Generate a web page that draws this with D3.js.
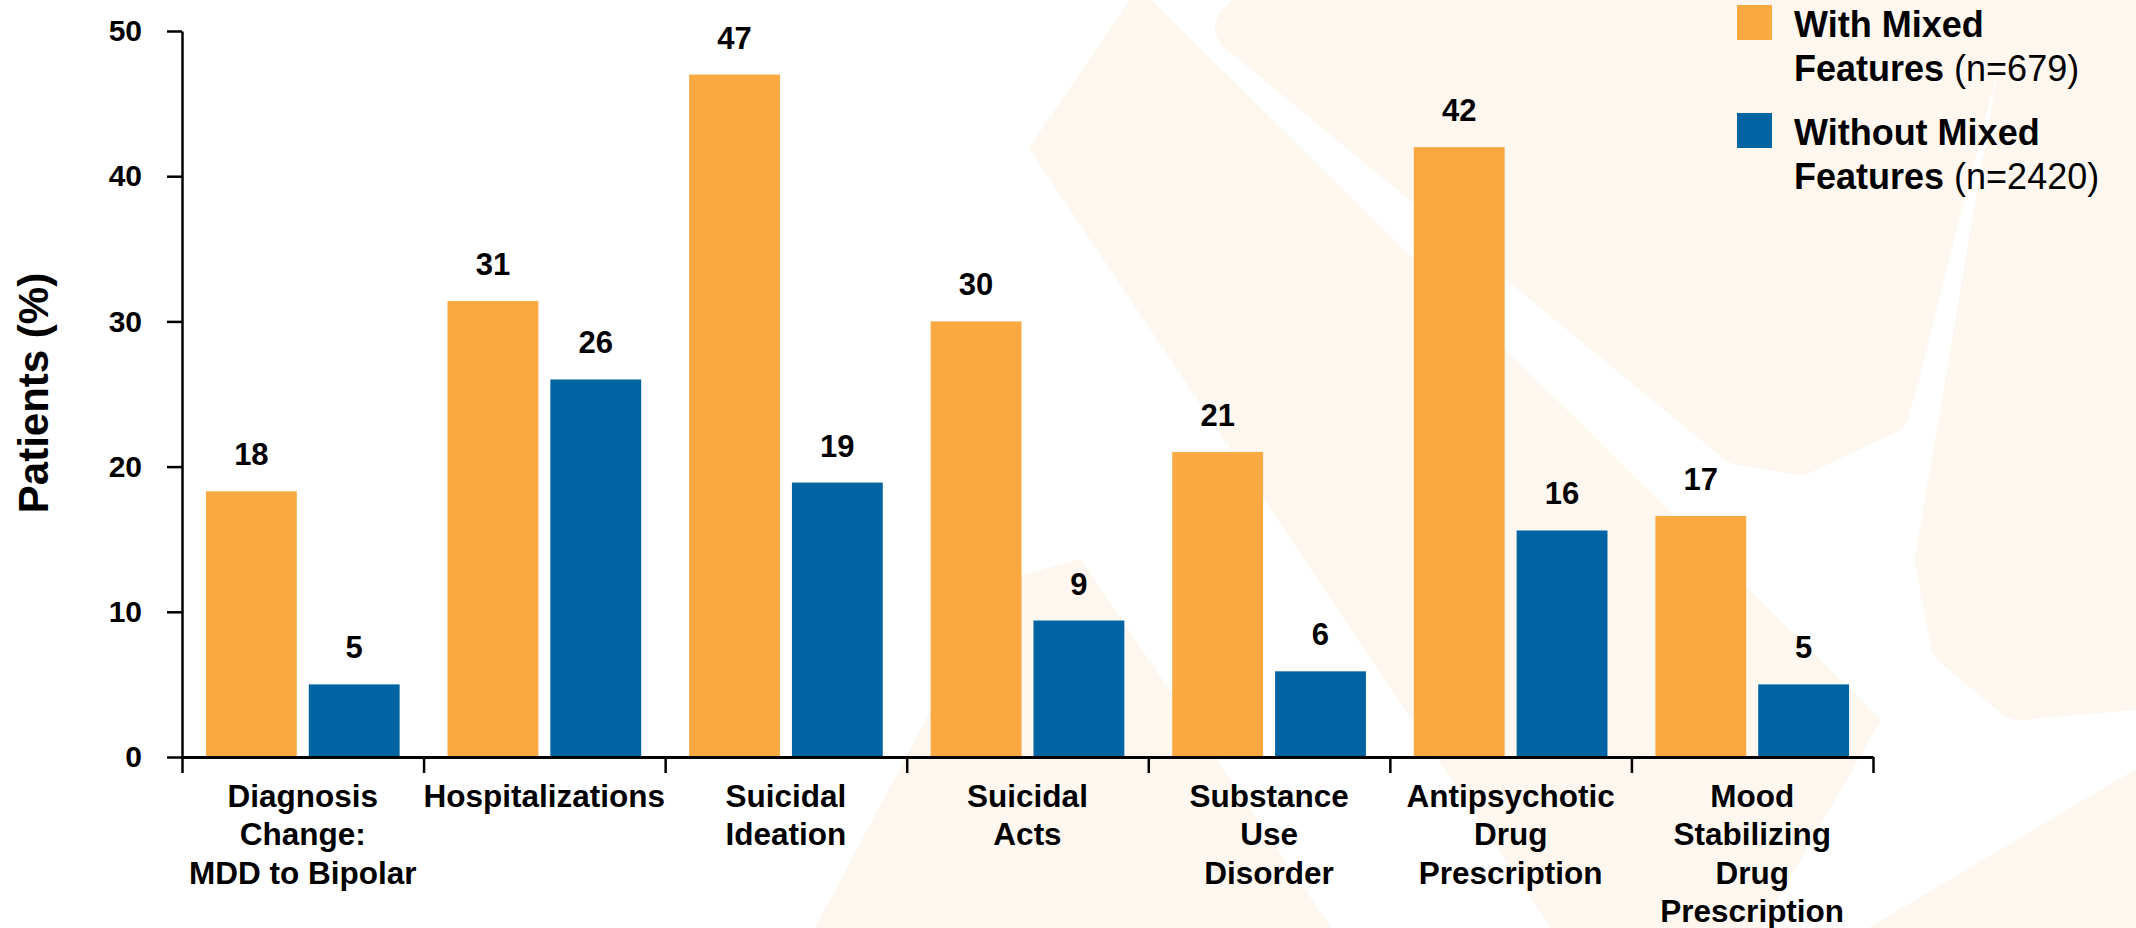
<!DOCTYPE html>
<html>
<head>
<meta charset="utf-8">
<script src="https://cdn.jsdelivr.net/npm/d3@7"></script>
<style>
  html, body { margin: 0; padding: 0; background: #fff; }
  svg { display: block; font-family: "Liberation Sans", Arial, Helvetica, sans-serif; }
</style>
</head>
<body>
<div id="chart"></div>
<script>
// data
const categories = [
  "Diagnosis\nChange:\nMDD to Bipolar",
  "Hospitalizations",
  "Suicidal\nIdeation",
  "Suicidal\nActs",
  "Substance\nUse\nDisorder",
  "Antipsychotic\nDrug\nPrescription",
  "Mood\nStabilizing\nDrug\nPrescription"
];
const seriesKeys = ["with", "without"];
const withMixed = [18.3, 31.4, 47.0, 30.0, 21.0, 42.0, 16.6];
const withoutMixed = [5.0, 26.0, 18.9, 9.4, 5.9, 15.6, 5.0];
const withLabels = [18, 31, 47, 30, 21, 42, 17];
const withoutLabels = [5, 26, 19, 9, 6, 16, 5];
const yTicks = [0, 10, 20, 30, 40, 50];
const legendBold = [["With Mixed", "Features"], ["Without Mixed", "Features"]];
const legendN = ["(n=679)", "(n=2420)"];

const colors = { with: "#FAA841", without: "#0063A2" };
const cream = "#FEF7EF";

const width = 2136, height = 928;
const plot = { left: 182, right: 1873, top: 31, bottom: 757 };

const svg = d3.select("#chart").append("svg")
  .attr("width", width)
  .attr("height", height);

// faint watermark shapes in the background
const bg = svg.append("g")
  .attr("fill", cream)
  .attr("stroke", cream)
  .attr("stroke-linejoin", "round");

const shapes = [
  { pts: [[1131, 0], [1150, 0], [1880, 720], [1760, 928], [1552, 928], [1030, 148]], sw: 2 },
  { pts: [[816, 928], [1000, 583], [1080, 560], [1330, 928]], sw: 2 },
  { pts: [[1265, 0], [1990, 0], [1885, 410], [1800, 450], [1740, 440], [1240, 28]], sw: 50 },
  { pts: [[2040, 0], [2136, 0], [2136, 680], [2020, 690], [1960, 640], [1945, 560]], sw: 60 },
  { pts: [[1870, 928], [2136, 770], [2136, 928]], sw: 2 }
];
bg.selectAll("path")
  .data(shapes)
  .join("path")
  .attr("d", d => d3.line()(d.pts) + "Z")
  .attr("stroke-width", d => d.sw);

const data = categories.map((c, i) => ({
  cat: c,
  values: [
    { key: "with", value: withMixed[i], label: withLabels[i] },
    { key: "without", value: withoutMixed[i], label: withoutLabels[i] }
  ]
}));

const x = d3.scaleBand()
  .domain(categories)
  .range([plot.left, plot.right]);

const xs = d3.scaleBand()
  .domain(seriesKeys)
  .range([0, x.bandwidth()])
  .paddingInner(0.1165)
  .paddingOuter(0.233);

const y = d3.scaleLinear()
  .domain([0, 50])
  .range([plot.bottom, plot.top]);

// bars
const groups = svg.append("g")
  .selectAll("g")
  .data(data)
  .join("g")
  .attr("transform", d => `translate(${x(d.cat)},0)`);

groups.selectAll("rect")
  .data(d => d.values)
  .join("rect")
  .attr("x", d => xs(d.key))
  .attr("y", d => y(d.value))
  .attr("width", xs.bandwidth())
  .attr("height", d => y(0) - y(d.value))
  .attr("fill", d => colors[d.key]);

groups.selectAll("text")
  .data(d => d.values)
  .join("text")
  .attr("x", d => xs(d.key) + xs.bandwidth() / 2)
  .attr("y", d => y(d.value) - 26)
  .attr("text-anchor", "middle")
  .attr("font-size", 31)
  .attr("font-weight", "bold")
  .attr("fill", "#000")
  .text(d => d.label);

// y axis
const yAxis = svg.append("g")
  .attr("transform", `translate(${plot.left},0)`)
  .call(d3.axisLeft(y).tickValues(yTicks).tickSize(15).tickPadding(25).tickSizeOuter(0));

yAxis.select(".domain").attr("stroke-width", 2.5);
yAxis.selectAll(".tick line").attr("stroke-width", 2.5);
yAxis.selectAll(".tick text")
  .attr("font-size", 30)
  .attr("font-weight", "bold")
  .attr("font-family", "Liberation Sans, Arial, sans-serif")
  .attr("fill", "#000");

// x axis: ticks between categories
const xEdges = d3.scaleLinear().domain([0, categories.length]).range([plot.left, plot.right]);
const xAxis = svg.append("g")
  .attr("transform", `translate(0,${plot.bottom})`)
  .call(d3.axisBottom(xEdges).tickValues(d3.range(categories.length + 1)).tickSize(16).tickFormat("").tickSizeOuter(0));

xAxis.select(".domain").attr("stroke-width", 3);
xAxis.selectAll(".tick line").attr("stroke-width", 2.5);

// category labels
const catLabels = svg.append("g")
  .selectAll("text")
  .data(categories)
  .join("text")
  .attr("x", d => x(d) + x.bandwidth() / 2)
  .attr("y", 807)
  .attr("text-anchor", "middle")
  .attr("font-size", 31.5)
  .attr("font-weight", "bold")
  .attr("fill", "#000");

catLabels.selectAll("tspan")
  .data(d => d.split("\n"))
  .join("tspan")
  .attr("x", function () { return d3.select(this.parentNode).attr("x"); })
  .attr("dy", (d, i) => i === 0 ? 0 : 38.3)
  .text(d => d);

// y axis title
svg.append("text")
  .attr("transform", "translate(48,393) rotate(-90)")
  .attr("text-anchor", "middle")
  .attr("font-size", 42)
  .attr("font-weight", "bold")
  .attr("fill", "#000")
  .text("Patients (%)");

// legend
const legend = svg.append("g")
  .selectAll("g")
  .data(seriesKeys)
  .join("g")
  .attr("transform", (d, i) => `translate(1737,${5 + i * 108})`);

legend.append("rect")
  .attr("width", 35)
  .attr("height", 35)
  .attr("fill", d => colors[d]);

const legText = legend.append("text")
  .attr("x", 57)
  .attr("y", 32)
  .attr("font-size", 36)
  .attr("fill", "#000");

legText.append("tspan")
  .attr("font-weight", "bold")
  .text((d, i) => legendBold[i][0]);
legText.append("tspan")
  .attr("x", 57)
  .attr("dy", 44)
  .attr("font-weight", "bold")
  .text((d, i) => legendBold[i][1]);
legText.append("tspan")
  .text((d, i) => " " + legendN[i]);
</script>
</body>
</html>
